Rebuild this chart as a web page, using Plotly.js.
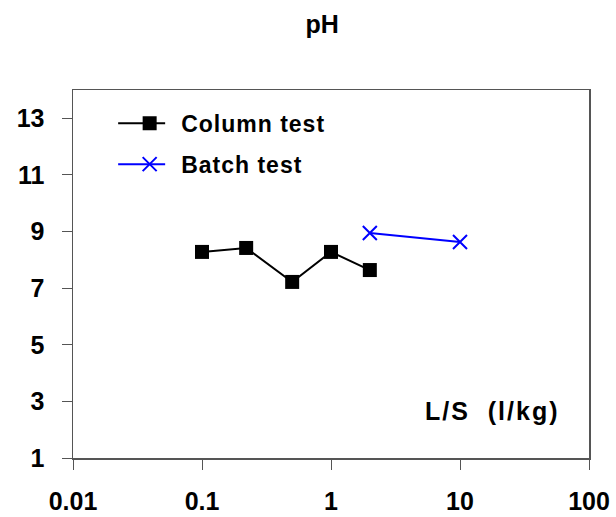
<!DOCTYPE html>
<html>
<head>
<meta charset="utf-8">
<script src="https://cdn.plot.ly/plotly-3.0.1.min.js"></script>
<style>html,body{margin:0;padding:0;background:#fff}#chart{width:616px;height:517px}</style>
</head>
<body>
<div id="chart"></div>
<script>
// pH against liquid-to-solid ratio
const columnLS = [0.1, 0.22, 0.5, 1.0, 2.0];
const columnPH = [8.28, 8.42, 7.22, 8.28, 7.64];
const batchLS = [2, 10];
const batchPH = [8.95, 8.63];
const xTickVals = [0.01, 0.1, 1, 10, 100];
const xTickText = ['0.01', '0.1', '1', '10', '100'];
const yTickVals = [1, 3, 5, 7, 9, 11, 13];

const FONT = 'Liberation Sans, Arial, sans-serif';
const spaced = function (s, px) { return '<span style="letter-spacing:' + px + 'px">' + s + '</span>'; };

const traces = [
  {
    x: columnLS, y: columnPH, name: spaced('Column test', 1), legendgroup: 'column',
    type: 'scatter', mode: 'lines+markers',
    line: {color: '#000', width: 2},
    marker: {symbol: 'square', size: 14, color: '#000'}
  },
  {
    x: batchLS, y: batchPH, name: spaced('Batch test', 1), legendgroup: 'batch',
    type: 'scatter', mode: 'lines+markers',
    line: {color: '#0000ff', width: 2},
    marker: {symbol: 'x-thin-open', size: 14, color: '#0000ff', line: {color: '#0000ff', width: 2}}
  }
];

const layout = {
  width: 616, height: 517,
  margin: {l: 73, r: 27, t: 90, b: 59},
  paper_bgcolor: '#fff', plot_bgcolor: '#fff',
  font: {family: FONT, color: '#000'},
  title: {text: 'pH', xref: 'container', x: 0.523, xanchor: 'center',
          yref: 'container', y: 0.953, yanchor: 'middle',
          font: {family: FONT, size: 25, weight: 'bold', color: '#000'}},
  showlegend: true,
  legend: {x: 0.0875, y: 0.968, xanchor: 'left', yanchor: 'top', bgcolor: 'rgba(0,0,0,0)',
           itemwidth: 53, traceorder: 'grouped', tracegroupgap: 8,
           font: {family: FONT, size: 23, weight: 'bold', color: '#000'}},
  xaxis: {
    type: 'log', range: [-2, 2],
    tickvals: xTickVals, ticktext: xTickText,
    ticks: 'outside', ticklen: 10, tickcolor: '#555', tickwidth: 1,
    ticklabelstandoff: 10,
    showgrid: false, zeroline: false,
    showline: true, linecolor: '#555', linewidth: 1.5, mirror: true,
    tickfont: {family: FONT, size: 25, weight: 'bold', color: '#000'}
  },
  yaxis: {
    range: [1, 14],
    tickvals: yTickVals,
    ticks: 'outside', ticklen: 10, tickcolor: '#555', tickwidth: 1,
    ticklabelstandoff: 12,
    showgrid: false, zeroline: false,
    showline: true, linecolor: '#555', linewidth: 1.5, mirror: true,
    tickfont: {family: FONT, size: 25, weight: 'bold', color: '#000'}
  },
  annotations: [{
    text: spaced('L/S  (l/kg)', 2), xref: 'paper', yref: 'paper', x: 0.948, y: 0.128,
    xanchor: 'right', yanchor: 'middle', showarrow: false,
    font: {family: FONT, size: 25, weight: 'bold', color: '#000'}
  }]
};

Plotly.newPlot('chart', traces, layout, {staticPlot: true}).then(function (gd) {
  // stretch the legend sample lines so they run under the whole symbol slot
  gd.querySelectorAll('.legend .legendlines path').forEach(function (p) {
    p.setAttribute('d', 'M-7,0h54');
  });
});
</script>
</body>
</html>
